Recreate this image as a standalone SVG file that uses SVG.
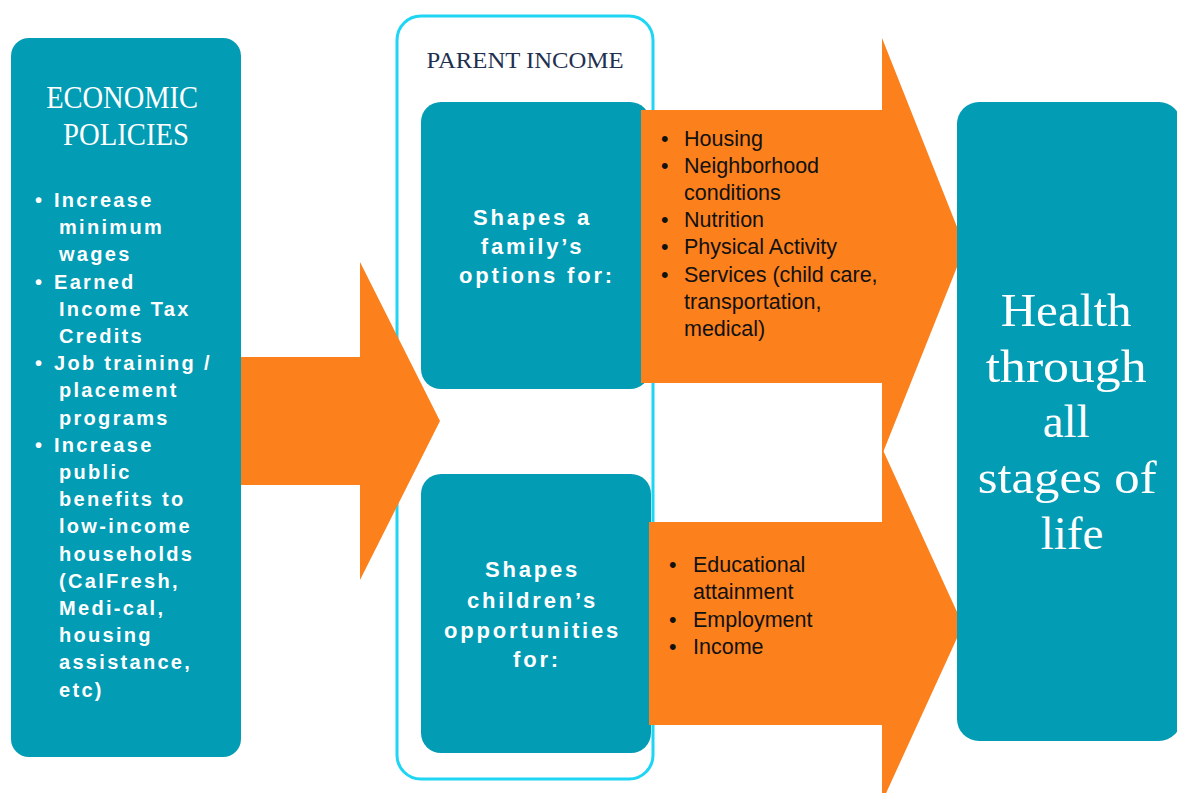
<svg xmlns="http://www.w3.org/2000/svg" width="1177" height="793" viewBox="0 0 1177 793">
  <style>
    .teal { fill: #029cb4; }
    .orange { fill: #fc801c; }
    .serifw { font-family: "Liberation Serif", "DejaVu Serif", serif; fill: #ffffff; }
    .bul { font-family: "Liberation Sans", Arial, sans-serif; font-weight: bold; fill: #ffffff; font-size: 20px; letter-spacing: 2.3px; }
    .mid { font-family: "Liberation Sans", Arial, sans-serif; font-weight: bold; fill: #ffffff; font-size: 22px; letter-spacing: 2.8px; text-anchor: middle; }
    .lst { font-family: "Liberation Sans", Arial, sans-serif; fill: #111111; font-size: 21.5px; }
  </style>
  <rect width="1177" height="793" fill="#ffffff"/>

  <g id="economic-policies">
    <rect class="teal" x="11" y="38" width="230" height="719" rx="18"/>
    <text class="serifw" font-size="31" text-anchor="middle">
      <tspan x="126" y="108" textLength="152" lengthAdjust="spacingAndGlyphs">ECONOMIC</tspan>
      <tspan x="126" y="145" textLength="126" lengthAdjust="spacingAndGlyphs">POLICIES</tspan>
    </text>
    <text class="bul">
      <tspan x="35" y="207">•</tspan>
      <tspan x="35" y="288.6">•</tspan>
      <tspan x="35" y="370.2">•</tspan>
      <tspan x="35" y="451.8">•</tspan>
    </text>
    <text class="bul">
      <tspan x="54" y="207">Increase</tspan>
      <tspan x="59" y="234.2">minimum</tspan>
      <tspan x="59" y="261.4">wages</tspan>
      <tspan x="54" y="288.6">Earned</tspan>
      <tspan x="59" y="315.8">Income Tax</tspan>
      <tspan x="59" y="343">Credits</tspan>
      <tspan x="54" y="370.2">Job training /</tspan>
      <tspan x="59" y="397.4">placement</tspan>
      <tspan x="59" y="424.6">programs</tspan>
      <tspan x="54" y="451.8">Increase</tspan>
      <tspan x="59" y="479">public</tspan>
      <tspan x="59" y="506.2">benefits to</tspan>
      <tspan x="59" y="533.4">low-income</tspan>
      <tspan x="59" y="560.6">households</tspan>
      <tspan x="59" y="587.8">(CalFresh,</tspan>
      <tspan x="59" y="615">Medi-cal,</tspan>
      <tspan x="59" y="642.2">housing</tspan>
      <tspan x="59" y="669.4">assistance,</tspan>
      <tspan x="59" y="696.6">etc)</tspan>
    </text>
  </g>

  <g id="parent-income">
    <rect x="397" y="16" width="256" height="763" rx="24" fill="none" stroke="#1ed6f4" stroke-width="3"/>
    <text x="525" y="67.5" font-family="'Liberation Serif', 'DejaVu Serif', serif" font-size="24" fill="#1f3050" text-anchor="middle" textLength="197" lengthAdjust="spacingAndGlyphs">PARENT INCOME</text>
  </g>

  <g id="family-options">
    <rect class="teal" x="421" y="102" width="229" height="287" rx="20"/>
    <text class="mid">
      <tspan x="537" y="225">Shapes a</tspan>
      <tspan x="537" y="254">family’s</tspan>
      <tspan x="537" y="283">options for:</tspan>
    </text>
  </g>

  <g id="children-opportunities">
    <rect class="teal" x="421" y="474" width="230" height="279" rx="20"/>
    <text class="mid">
      <tspan x="537" y="577">Shapes</tspan>
      <tspan x="537" y="608">children’s</tspan>
      <tspan x="537" y="638">opportunities</tspan>
      <tspan x="537" y="667">for:</tspan>
    </text>
  </g>

  <g id="connectors">
    <polygon class="orange" points="241,357 360,357 360,262 440,421 360,580 360,485 241,485"/>
    <polygon class="orange" points="641,110 882,110 882,38 965,247 882,455 882,383 641,383"/>
    <polygon class="orange" points="649,522 882,522 882,448 963,625 882,802 882,725 649,725"/>
  </g>

  <g id="family-options-list">
    <text class="lst">
      <tspan x="661" y="145.5">•</tspan>
      <tspan x="661" y="172.7">•</tspan>
      <tspan x="661" y="227.1">•</tspan>
      <tspan x="661" y="254.3">•</tspan>
      <tspan x="661" y="281.5">•</tspan>
    </text>
    <text class="lst">
      <tspan x="684" y="145.5">Housing</tspan>
      <tspan x="684" y="172.7">Neighborhood</tspan>
      <tspan x="684" y="199.9">conditions</tspan>
      <tspan x="684" y="227.1">Nutrition</tspan>
      <tspan x="684" y="254.3">Physical Activity</tspan>
      <tspan x="684" y="281.5">Services (child care,</tspan>
      <tspan x="684" y="308.7">transportation,</tspan>
      <tspan x="684" y="335.9">medical)</tspan>
    </text>
  </g>

  <g id="children-opportunities-list">
    <text class="lst">
      <tspan x="669" y="572">•</tspan>
      <tspan x="669" y="626.5">•</tspan>
      <tspan x="669" y="654">•</tspan>
    </text>
    <text class="lst">
      <tspan x="693" y="572">Educational</tspan>
      <tspan x="693" y="599">attainment</tspan>
      <tspan x="693" y="626.5">Employment</tspan>
      <tspan x="693" y="654">Income</tspan>
    </text>
  </g>

  <g id="health">
    <rect class="teal" x="957" y="102" width="224" height="639" rx="22"/>
    <text class="serifw" font-size="47" text-anchor="middle">
      <tspan x="1072" y="326" textLength="131" lengthAdjust="spacingAndGlyphs">Health</tspan>
      <tspan x="1072" y="382" textLength="161" lengthAdjust="spacingAndGlyphs">through</tspan>
      <tspan x="1072" y="437">all</tspan>
      <tspan x="1073" y="493" textLength="179" lengthAdjust="spacingAndGlyphs">stages of</tspan>
      <tspan x="1072" y="549">life</tspan>
    </text>
  </g>
</svg>
